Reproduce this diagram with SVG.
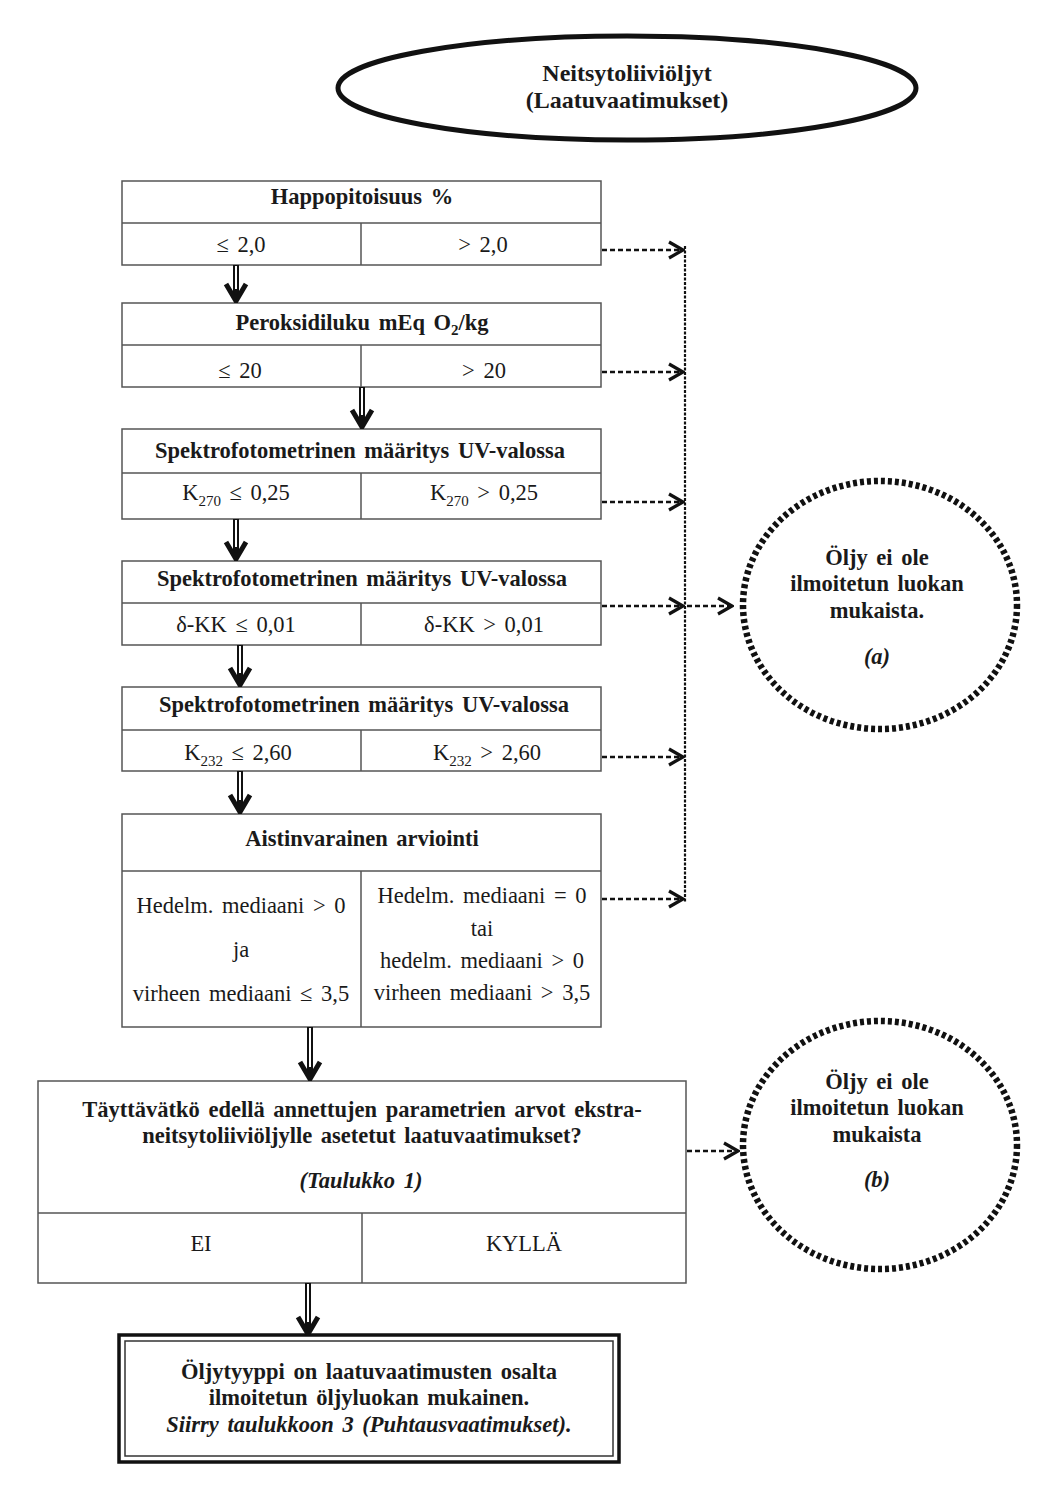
<svg xmlns="http://www.w3.org/2000/svg" width="1041" height="1509" viewBox="0 0 1041 1509">
<style>
text{font-family:"Liberation Serif","DejaVu Serif",serif;fill:#1a1a1a;font-size:22.5px;text-anchor:middle;word-spacing:3px}
.b{font-weight:bold}
.i{font-style:italic}
.t{font-size:24px}
.box{fill:#fff;stroke:#555;stroke-width:1.5}
.ln{stroke:#555;stroke-width:1.5;fill:none}
.dash{stroke:#111;stroke-width:2.5;stroke-dasharray:5,3;fill:none}
.vdash{stroke:#111;stroke-width:2.2;stroke-dasharray:3,1.5;fill:none}
.dot{fill:none;stroke:#111;stroke-width:6.5;stroke-dasharray:4,3}
.dbo{stroke:#111;stroke-width:6;fill:none}
.dbi{stroke:#fff;stroke-width:2;fill:none}
</style>
<defs>
<marker id="ah" markerUnits="userSpaceOnUse" viewBox="0 0 18 22" refX="16" refY="11" markerWidth="18" markerHeight="22" orient="auto">
<path d="M2,3 L16,11 L2,19" fill="none" stroke="#111" stroke-width="3.2"/>
</marker>
<marker id="dh" markerUnits="userSpaceOnUse" viewBox="0 0 22 26" refX="20" refY="13" markerWidth="22" markerHeight="26" orient="auto">
<path d="M3,3 L20,13 L3,23" fill="none" stroke="#111" stroke-width="5"/>
</marker>
</defs>

<g id="start">
<ellipse cx="627" cy="88" rx="289" ry="52" fill="#fff" stroke="#111" stroke-width="5"/>
<text x="627" y="81" class="b t">Neitsytoliiviöljyt</text>
<text x="627" y="108" class="b t">(Laatuvaatimukset)</text>
</g>

<g id="n1">
<rect class="box" x="122" y="181" width="479" height="84"/>
<line class="ln" x1="122" y1="223" x2="601" y2="223"/>
<line class="ln" x1="361" y1="223" x2="361" y2="265"/>
<text x="362" y="204" class="b">Happopitoisuus %</text>
<text x="241" y="252">≤ 2,0</text>
<text x="483" y="252">&gt; 2,0</text>
</g>

<g id="n2">
<rect class="box" x="122" y="303" width="479" height="84"/>
<line class="ln" x1="122" y1="345" x2="601" y2="345"/>
<line class="ln" x1="361" y1="345" x2="361" y2="387"/>
<text x="362" y="330" class="b">Peroksidiluku mEq O<tspan dy="5" font-size="15">2</tspan><tspan dy="-5">/kg</tspan></text>
<text x="240" y="378">≤ 20</text>
<text x="484" y="378">&gt; 20</text>
</g>

<g id="n3">
<rect class="box" x="122" y="429" width="479" height="90"/>
<line class="ln" x1="122" y1="473" x2="601" y2="473"/>
<line class="ln" x1="361" y1="473" x2="361" y2="519"/>
<text x="360" y="458" class="b">Spektrofotometrinen määritys UV-valossa</text>
<text x="236" y="500">K<tspan dy="6" font-size="15">270</tspan><tspan dy="-6"> ≤ 0,25</tspan></text>
<text x="484" y="500">K<tspan dy="6" font-size="15">270</tspan><tspan dy="-6"> &gt; 0,25</tspan></text>
</g>

<g id="n4">
<rect class="box" x="122" y="561" width="479" height="84"/>
<line class="ln" x1="122" y1="603" x2="601" y2="603"/>
<line class="ln" x1="361" y1="603" x2="361" y2="645"/>
<text x="362" y="586" class="b">Spektrofotometrinen määritys UV-valossa</text>
<text x="236" y="632">δ-KK ≤ 0,01</text>
<text x="484" y="632">δ-KK &gt; 0,01</text>
</g>

<g id="n5">
<rect class="box" x="122" y="687" width="479" height="84"/>
<line class="ln" x1="122" y1="730" x2="601" y2="730"/>
<line class="ln" x1="361" y1="730" x2="361" y2="771"/>
<text x="364" y="712" class="b">Spektrofotometrinen määritys UV-valossa</text>
<text x="238" y="760">K<tspan dy="6" font-size="15">232</tspan><tspan dy="-6"> ≤ 2,60</tspan></text>
<text x="487" y="760">K<tspan dy="6" font-size="15">232</tspan><tspan dy="-6"> &gt; 2,60</tspan></text>
</g>

<g id="n6">
<rect class="box" x="122" y="814" width="479" height="213"/>
<line class="ln" x1="122" y1="871" x2="601" y2="871"/>
<line class="ln" x1="361" y1="871" x2="361" y2="1027"/>
<text x="362" y="846" class="b">Aistinvarainen arviointi</text>
<text x="241" y="913">Hedelm. mediaani &gt; 0</text>
<text x="241" y="957">ja</text>
<text x="241" y="1001">virheen mediaani ≤ 3,5</text>
<text x="482" y="903">Hedelm. mediaani = 0</text>
<text x="482" y="936">tai</text>
<text x="482" y="968">hedelm. mediaani &gt; 0</text>
<text x="482" y="1000">virheen mediaani &gt; 3,5</text>
</g>

<g id="n7">
<rect class="box" x="38" y="1081" width="648" height="202"/>
<line class="ln" x1="38" y1="1213" x2="686" y2="1213"/>
<line class="ln" x1="362" y1="1213" x2="362" y2="1283"/>
<text x="362" y="1117" class="b">Täyttävätkö edellä annettujen parametrien arvot ekstra-</text>
<text x="362" y="1143" class="b">neitsytoliiviöljylle asetetut laatuvaatimukset?</text>
<text x="361" y="1188" class="b i">(Taulukko 1)</text>
<text x="201" y="1251">EI</text>
<text x="524" y="1251">KYLLÄ</text>
</g>

<g id="n8">
<rect x="119" y="1335" width="500" height="127" fill="#fff" stroke="#111" stroke-width="3.5"/>
<rect x="125" y="1341" width="488" height="115" fill="none" stroke="#333" stroke-width="1.5"/>
<text x="369" y="1379" class="b">Öljytyyppi on laatuvaatimusten osalta</text>
<text x="369" y="1405" class="b">ilmoitetun öljyluokan mukainen.</text>
<text x="369" y="1432" class="b i">Siirry taulukkoon 3 (Puhtausvaatimukset).</text>
</g>

<g id="reja">
<ellipse class="dot" cx="880" cy="605" rx="137" ry="124"/>
<text x="877" y="565" class="b">Öljy ei ole</text>
<text x="877" y="591" class="b">ilmoitetun luokan</text>
<text x="877" y="618" class="b">mukaista.</text>
<text x="877" y="664" class="b i">(a)</text>
</g>

<g id="rejb">
<ellipse class="dot" cx="880" cy="1145" rx="137" ry="124"/>
<text x="877" y="1089" class="b">Öljy ei ole</text>
<text x="877" y="1115" class="b">ilmoitetun luokan</text>
<text x="877" y="1142" class="b">mukaista</text>
<text x="877" y="1187" class="b i">(b)</text>
</g>

<g id="connectors">
<line class="dbo" x1="236" y1="265" x2="236" y2="301" marker-end="url(#dh)"/>
<line class="dbi" x1="236" y1="266" x2="236" y2="289"/>
<line class="dbo" x1="362" y1="387" x2="362" y2="427" marker-end="url(#dh)"/>
<line class="dbi" x1="362" y1="388" x2="362" y2="415"/>
<line class="dbo" x1="236" y1="519" x2="236" y2="559" marker-end="url(#dh)"/>
<line class="dbi" x1="236" y1="520" x2="236" y2="547"/>
<line class="dbo" x1="240" y1="645" x2="240" y2="685" marker-end="url(#dh)"/>
<line class="dbi" x1="240" y1="646" x2="240" y2="673"/>
<line class="dbo" x1="240" y1="771" x2="240" y2="812" marker-end="url(#dh)"/>
<line class="dbi" x1="240" y1="772" x2="240" y2="800"/>
<line class="dbo" x1="310" y1="1027" x2="310" y2="1079" marker-end="url(#dh)"/>
<line class="dbi" x1="310" y1="1028" x2="310" y2="1067"/>
<line class="dbo" x1="308" y1="1283" x2="308" y2="1334" marker-end="url(#dh)"/>
<line class="dbi" x1="308" y1="1284" x2="308" y2="1322"/>
<line class="dash" x1="602" y1="250" x2="683" y2="250" marker-end="url(#ah)"/>
<line class="dash" x1="602" y1="372" x2="683" y2="372" marker-end="url(#ah)"/>
<line class="dash" x1="602" y1="502" x2="683" y2="502" marker-end="url(#ah)"/>
<line class="dash" x1="602" y1="606" x2="683" y2="606" marker-end="url(#ah)"/>
<line class="dash" x1="602" y1="757" x2="683" y2="757" marker-end="url(#ah)"/>
<line class="dash" x1="602" y1="899" x2="683" y2="899" marker-end="url(#ah)"/>
<line class="vdash" x1="685" y1="246" x2="685" y2="902"/>
<line class="dash" x1="687" y1="606" x2="732" y2="606" marker-end="url(#ah)"/>
<line class="dash" x1="687" y1="1151" x2="738" y2="1151" marker-end="url(#ah)"/>
</g>
</svg>
